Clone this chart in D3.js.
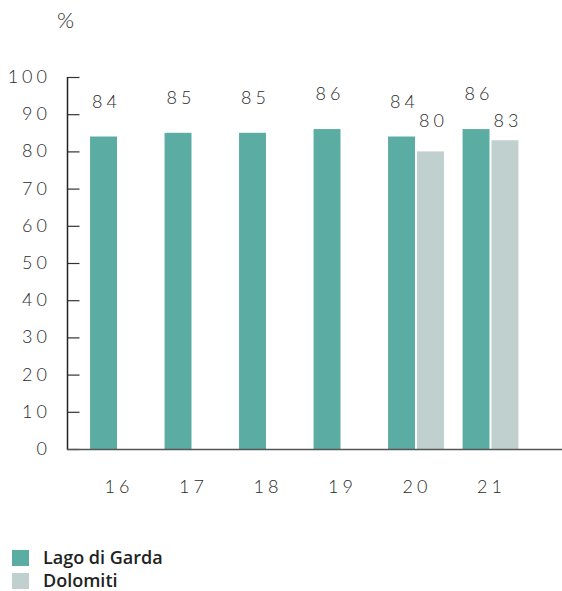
<!DOCTYPE html>
<html><head><meta charset="utf-8">
<script src="https://cdn.jsdelivr.net/npm/d3@7"></script>
<style>body{margin:0;background:#fff}svg{display:block}text{font-family:Lato,"Noto Sans",sans-serif;fill:#2a2a2a}</style>
</head><body>
<svg id="c" width="562" height="591"></svg>
<script>
const years = ["16","17","18","19","20","21"];
const seriesNames = ["Lago di Garda","Dolomiti"];
const lagoValues = [84,85,85,86,84,86];
const dolomitiValues = [null,null,null,null,80,83];
const yTicks = [0,10,20,30,40,50,60,70,80,90,100];
const colors = ["#5BADA3","#BFD0CF"];

const svg = d3.select("#c");
const y = d3.scaleLinear().domain([0,100]).range([449,77]);
const x = d3.scaleBand().domain(years).range([80.75,527.75]).paddingInner(0.25).paddingOuter(0.125);
const xs = d3.scaleBand().domain(seriesNames).range([0,x.bandwidth()]).paddingInner(0.07);

const series = [lagoValues, dolomitiValues];
const labelY = [v=>y(v)-29, v=>y(Math.min(v,80))-24];
series.forEach((vals,si)=>{
  const data = years.map((yr,i)=>({yr,v:vals[i]})).filter(d=>d.v!=null);
  svg.append("g").selectAll("rect").data(data).join("rect")
    .attr("x",d=>x(d.yr)+xs(seriesNames[si]))
    .attr("width",xs.bandwidth())
    .attr("y",d=>y(d.v)).attr("height",d=>y(0)-y(d.v))
    .attr("fill",colors[si]);
  svg.append("g").selectAll("text").data(data).join("text")
    .attr("x",d=>x(d.yr)+xs(seriesNames[si])+xs.bandwidth()/2+3)
    .attr("y",d=>labelY[si](d.v))
    .attr("text-anchor","middle")
    .style("font-size","18px").style("font-weight","300").style("letter-spacing","4px")
    .text(d=>d.v);
});

// y axis
const ya = svg.append("g").attr("transform","translate(67.5,0)")
  .call(d3.axisRight(y).tickValues(yTicks).tickSize(12).tickFormat(""));
ya.select(".domain").remove();
ya.selectAll(".tick line").attr("stroke","#333").attr("stroke-width",1.2);
svg.append("line").attr("x1",67.5).attr("x2",67.5).attr("y1",y(100)).attr("y2",y(0)+1).attr("stroke","#222").attr("stroke-width",1.5);
svg.append("g").selectAll("text").data(yTicks).join("text")
  .attr("x",51).attr("y",d=>y(d)+6).attr("text-anchor","end")
  .style("font-size","18px").style("font-weight","300").style("letter-spacing","4px")
  .text(d=>d);
// x baseline
svg.append("line").attr("x1",67).attr("x2",562).attr("y1",y(0)+0.5).attr("y2",y(0)+0.5).attr("stroke","#555").attr("stroke-width",1.5);
// x labels
svg.append("g").selectAll("text").data(years).join("text")
  .attr("x",d=>x(d)+x.bandwidth()/2+1).attr("y",493)
  .attr("text-anchor","middle")
  .style("font-size","18px").style("font-weight","300").style("letter-spacing","4px")
  .text(d=>d);
// unit
svg.append("text").attr("x",57).attr("y",28).style("font-size","22px").style("font-weight","300").text("%");
// legend
const lg = svg.append("g").selectAll("g").data(seriesNames).join("g")
  .attr("transform",(d,i)=>`translate(12,${550+i*23})`);
lg.append("rect").attr("width",17).attr("height",16).attr("fill",(d,i)=>colors[i]);
lg.append("text").attr("x",31).attr("y",14).style("font-family","'Open Sans'").style("font-weight","600").style("font-size","18px").style("fill","#222").text(d=>d);
</script>
</body></html>
